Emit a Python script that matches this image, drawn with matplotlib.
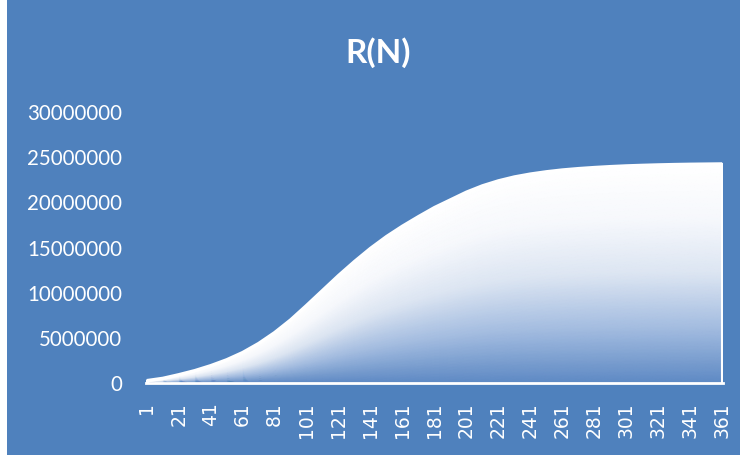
import numpy as np
import matplotlib
matplotlib.use("Agg")
import matplotlib.pyplot as plt
from matplotlib.colors import LinearSegmentedColormap

# valeurs (tous les 10 N)
n_values = [1, 11, 21, 31, 41, 51, 61, 71, 81, 91, 101, 111, 121, 131, 141, 151,
            161, 171, 181, 191, 201, 211, 221, 231, 241, 251, 261, 271, 281, 291,
            301, 311, 321, 331, 341, 351, 361]
r_values = [0.20e6, 0.45e6, 0.85e6, 1.30e6, 1.85e6, 2.50e6, 3.30e6, 4.30e6, 5.50e6,
            6.90e6, 8.50e6, 10.15e6, 11.80e6, 13.35e6, 14.80e6, 16.10e6, 17.25e6,
            18.30e6, 19.30e6, 20.15e6, 21.00e6, 21.70e6, 22.25e6, 22.68e6, 23.00e6,
            23.25e6, 23.45e6, 23.60e6, 23.72e6, 23.82e6, 23.90e6, 23.96e6, 24.01e6,
            24.05e6, 24.08e6, 24.10e6, 24.12e6]
x_ticks = list(range(1, 362, 20))
y_ticks = [0, 5000000, 10000000, 15000000, 20000000, 25000000, 30000000]

bg = '#4F81BD'

fig = plt.figure(figsize=(7.4, 4.56), dpi=100)
fig.patch.set_facecolor(bg)
# petite bande blanche a gauche
fig.patches.append(plt.Rectangle((0, 0), 7 / 740, 1, transform=fig.transFigure,
                                 facecolor='white', edgecolor='none'))

ax = fig.add_axes([146 / 740, 72.5 / 456, 577 / 740, 271.8 / 456])
ax.set_facecolor(bg)

# degrade blanc (haut) -> bleu (bas) pour chaque colonne
cmap = LinearSegmentedColormap.from_list('grad', [
    (0.0, '#5f8ac4'), (0.25, '#a3bce0'), (0.5, '#dce5f2'),
    (0.75, '#f6f8fc'), (1.0, '#ffffff')])
n = np.array(n_values, dtype=float)
r = np.array(r_values)
t = np.linspace(0, 1, 60)[:, None]
X = np.tile(n, (t.shape[0], 1))
Y = t * r[None, :]
C = np.tile(t, (1, len(n)))
ax.pcolormesh(X, Y, C, shading='gouraud', cmap=cmap, vmin=0, vmax=1, zorder=2)
ax.plot(n, r, color='white', lw=2.5, solid_capstyle='butt', zorder=3)
ax.plot([n[0], n[0]], [0, r[0]], color='white', lw=2.5, zorder=3)
ax.plot([n[-1], n[-1]], [0, r[-1]], color='white', lw=1.5, zorder=3)

ax.set_xlim(0.5, 361.5)
ax.set_ylim(0, 30000000)

for s in ['top', 'right', 'left']:
    ax.spines[s].set_visible(False)
ax.spines['bottom'].set_color('white')
ax.spines['bottom'].set_linewidth(2)
ax.spines['bottom'].set_zorder(4)

ax.set_yticks(y_ticks)
ax.set_yticklabels([str(v) for v in y_ticks], fontsize=14.8, color='white', family='Lato')
ax.set_xticks(x_ticks)
ax.set_xticklabels([str(v) for v in x_ticks], fontsize=13.5, color='white',
                   rotation=90, va='top', ha='center')
ax.tick_params(axis='y', length=0, pad=17)
ax.tick_params(axis='x', length=0, pad=13.5)

fig.text(378 / 740, 1 - 53 / 456, 'R(N)', ha='center', va='center', color='white',
         fontsize=24, fontweight='bold', family='Lato')

fig.savefig('out.png', dpi=100, facecolor=fig.get_facecolor())
